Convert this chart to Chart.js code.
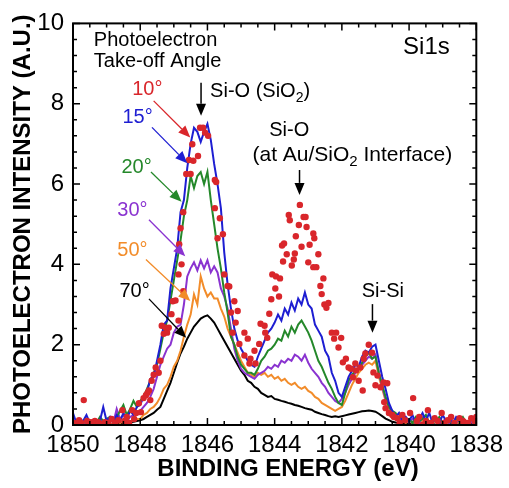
<!DOCTYPE html>
<html>
<head>
<meta charset="utf-8">
<script src="https://cdn.jsdelivr.net/npm/chart.js@4.4.1/dist/chart.umd.min.js"></script>
<style>
    html, body { margin: 0; padding: 0; background: #fff; }
    canvas { display: block; }
</style>
</head>
<body>
<canvas id="xps" width="509" height="488"></canvas>
<script>
/* global Chart */
// Binding energy grid (eV) shared by the line spectra
const energy = [
    1850.0, 1849.9, 1849.8, 1849.7, 1849.6, 1849.5, 1849.4, 1849.3, 1849.2, 1849.1,
    1849.0, 1848.9, 1848.8, 1848.7, 1848.6, 1848.5, 1848.4, 1848.3, 1848.2, 1848.1,
    1848.0, 1847.9, 1847.8, 1847.7, 1847.6, 1847.5, 1847.4, 1847.3, 1847.2, 1847.1,
    1847.0, 1846.9, 1846.8, 1846.7, 1846.6, 1846.5, 1846.4, 1846.3, 1846.2, 1846.1,
    1846.0, 1845.9, 1845.8, 1845.7, 1845.6, 1845.5, 1845.4, 1845.3, 1845.2, 1845.1,
    1845.0, 1844.9, 1844.8, 1844.7, 1844.6, 1844.5, 1844.4, 1844.3, 1844.2, 1844.1,
    1844.0, 1843.9, 1843.8, 1843.7, 1843.6, 1843.5, 1843.4, 1843.3, 1843.2, 1843.1,
    1843.0, 1842.9, 1842.8, 1842.7, 1842.6, 1842.5, 1842.4, 1842.3, 1842.2, 1842.1,
    1842.0, 1841.9, 1841.8, 1841.7, 1841.6, 1841.5, 1841.4, 1841.3, 1841.2, 1841.1,
    1841.0, 1840.9, 1840.8, 1840.7, 1840.6, 1840.5, 1840.4, 1840.3, 1840.2, 1840.1,
    1840.0, 1839.9, 1839.8, 1839.7, 1839.6, 1839.5, 1839.4, 1839.3, 1839.2, 1839.1,
    1839.0, 1838.9, 1838.8, 1838.7, 1838.6, 1838.5, 1838.4, 1838.3, 1838.2, 1838.1,
    1838.0
];

const angle15 = [
    0.3, 0.05, 0.15, 0.1, 0.25, 0.05, 0.1, 0.0, 0.1, 0.45,
    0.1, 0.2, 0.05, 0.25, 0.1, 0.3, 0.15, 0.35, 0.25, 0.45,
    0.5, 0.7, 0.8, 1.15, 1.2, 1.6, 2.0, 2.5, 2.6, 3.4,
    3.9, 4.4, 5.3, 5.6, 6.4, 7.0, 7.4, 7.3, 7.05, 7.3,
    7.5, 7.1, 6.5, 6.0, 5.4, 4.3, 3.5, 2.9, 2.4, 2.1,
    1.9, 1.75, 1.6, 1.5, 1.45, 1.7, 1.9, 2.1, 2.3, 2.4,
    2.55, 2.75, 2.6, 2.9, 2.75, 3.05, 2.85, 3.15, 3.0, 3.3,
    3.0, 2.9, 2.5, 2.35, 2.2, 1.85, 1.7, 1.3, 1.1, 0.8,
    0.7, 0.95, 1.2, 1.35, 1.5, 1.45, 1.7, 1.85, 1.8, 1.95,
    2.0, 1.6, 1.2, 0.9, 0.55, 0.35, 0.2, 0.3, 0.1, 0.2,
    0.1, 0.25, 0.05, 0.15, 0.3, 0.1, 0.3, 0.05, 0.2, 0.05,
    0.25, 0.1, 0.15, 0.05, 0.2, 0.1, 0.15, 0.05, 0.1, 0.2,
    0.1
];

const angle20 = [
    0.1, 0.0, 0.1, 0.05, 0.15, 0.0, 0.1, 0.05, 0.2, 0.1,
    0.15, 0.2, 0.1, 0.2, 0.35, 0.5, 0.25, 0.4, 0.6, 0.45,
    0.6, 0.7, 0.9, 1.1, 1.3, 1.5, 1.9, 2.3, 2.6, 3.1,
    3.6, 4.1, 4.6, 5.2, 5.6, 6.2, 5.9, 6.2, 6.3, 6.0,
    6.3, 5.6, 5.0, 4.4, 3.9, 3.3, 2.8, 2.2, 2.0, 1.7,
    1.5, 1.4, 1.3, 1.3, 1.25, 1.4, 1.6, 1.7, 1.85, 1.9,
    2.0, 2.15, 2.1, 2.35, 2.2, 2.45, 2.3, 2.5, 2.6, 2.45,
    2.3, 2.1, 1.85, 1.6, 1.45, 1.25, 1.05, 0.9, 0.7, 0.55,
    0.5, 0.8, 1.1, 1.25, 1.35, 1.4, 1.55, 1.7, 1.8, 1.65,
    1.7, 1.3, 1.0, 0.7, 0.45, 0.35, 0.3, 0.15, 0.25, 0.1,
    0.15, 0.05, 0.2, 0.1, 0.15, 0.25, 0.05, 0.15, 0.1, 0.2,
    0.05, 0.15, 0.1, 0.05, 0.15, 0.1, 0.2, 0.05, 0.1, 0.15,
    0.05
];

const angle30 = [
    0.05, 0.0, 0.1, 0.0, 0.05, 0.1, 0.0, 0.05, 0.15, 0.05,
    0.1, 0.2, 0.05, 0.4, 0.15, 0.25, 0.1, 0.2, 0.25, 0.3,
    0.35, 0.45, 0.55, 0.7, 0.9, 1.2, 1.5, 1.7, 1.9, 2.0,
    2.3, 2.45, 2.5, 3.0, 3.7, 3.9, 4.05, 3.85, 4.1, 3.9,
    4.1, 3.8, 3.95, 3.8, 3.4, 3.2, 2.9, 2.4, 1.9, 1.6,
    1.4, 1.3, 1.25, 1.2, 1.15, 1.25, 1.3, 1.35, 1.45, 1.4,
    1.5, 1.45, 1.6, 1.55, 1.65, 1.6, 1.75, 1.7, 1.6, 1.75,
    1.55, 1.4, 1.3, 1.2, 1.05, 0.95, 0.8, 0.7, 0.6, 0.55,
    0.65, 0.8, 1.0, 1.15, 1.3, 1.4, 1.5, 1.6, 1.7, 1.65,
    1.75, 1.3, 0.95, 0.65, 0.45, 0.3, 0.2, 0.15, 0.1, 0.2,
    0.05, 0.15, 0.1, 0.05, 0.2, 0.1, 0.05, 0.15, 0.1, 0.05,
    0.1, 0.15, 0.05, 0.1, 0.05, 0.15, 0.1, 0.05, 0.1, 0.05,
    0.1
];

const angle50 = [
    0.0, 0.05, 0.0, 0.05, 0.0, 0.05, 0.0, 0.05, 0.0, 0.05,
    0.1, 0.0, 0.05, 0.1, 0.05, 0.1, 0.05, 0.1, 0.1, 0.15,
    0.15, 0.25, 0.3, 0.4, 0.45, 0.55, 0.7, 0.9, 1.0, 1.2,
    1.45, 1.6, 1.85, 2.2, 2.5, 2.75, 3.25, 3.0, 3.7, 3.4,
    3.2, 3.3, 3.15, 3.15, 2.9, 2.7, 2.4, 2.2, 2.0, 1.8,
    1.6, 1.45, 1.3, 1.25, 1.2, 1.3, 1.25, 1.3, 1.2, 1.25,
    1.15, 1.2, 1.1, 1.15, 1.05, 1.0, 1.05, 0.95, 0.9, 0.95,
    0.85, 0.8, 0.7, 0.65, 0.55, 0.5, 0.45, 0.4, 0.35, 0.4,
    0.45, 0.6, 0.8, 1.0, 1.15, 1.3, 1.4, 1.5, 1.55, 1.5,
    1.6, 1.2, 0.9, 0.6, 0.4, 0.25, 0.2, 0.1, 0.15, 0.05,
    0.1, 0.05, 0.1, 0.05, 0.1, 0.05, 0.1, 0.05, 0.1, 0.05,
    0.1, 0.05, 0.1, 0.05, 0.1, 0.05, 0.1, 0.05, 0.1, 0.05,
    0.1
];

const angle70 = [
    0.0, 0.02, 0.0, 0.03, 0.0, 0.02, 0.0, 0.03, 0.0, 0.02,
    0.0, 0.03, 0.0, 0.02, 0.03, 0.05, 0.05, 0.07, 0.08, 0.1,
    0.12, 0.15, 0.2, 0.25, 0.3, 0.38, 0.45, 0.65, 0.85, 1.05,
    1.3, 1.55, 1.78, 1.95, 2.15, 2.3, 2.45, 2.55, 2.65, 2.7,
    2.73, 2.65, 2.55, 2.4, 2.25, 2.1, 1.95, 1.8, 1.65, 1.5,
    1.35, 1.25, 1.1, 1.05, 0.95, 0.9, 0.8, 0.75, 0.7, 0.72,
    0.65, 0.63, 0.6, 0.58, 0.55, 0.53, 0.5, 0.48, 0.45, 0.42,
    0.4, 0.38, 0.33, 0.3, 0.27, 0.25, 0.22, 0.2, 0.22, 0.2,
    0.22, 0.24, 0.26, 0.28, 0.3, 0.32, 0.34, 0.35, 0.36, 0.35,
    0.33, 0.28, 0.22, 0.16, 0.12, 0.08, 0.06, 0.05, 0.04, 0.03,
    0.02, 0.03, 0.0, 0.02, 0.03, 0.0, 0.02, 0.03, 0.0, 0.02,
    0.03, 0.0, 0.02, 0.03, 0.0, 0.02, 0.03, 0.0, 0.02, 0.03,
    0.0
];

// 10 deg take-off angle, plotted as dots
const angle10E = [
    1849.97, 1849.9, 1849.82, 1849.75, 1849.68, 1849.58, 1849.5, 1849.42, 1849.35, 1849.25,
    1849.15, 1849.05, 1848.95, 1848.85, 1848.75, 1848.65, 1848.53, 1848.47, 1848.4, 1848.33,
    1848.24, 1848.18, 1848.12, 1848.04, 1847.98, 1847.9, 1847.83, 1847.78, 1847.74, 1847.7,
    1847.66, 1847.6, 1847.54, 1847.45, 1847.4, 1847.36, 1847.3, 1847.24, 1847.2, 1847.15,
    1847.07, 1847.03, 1846.95, 1846.86, 1846.86, 1846.84, 1846.8, 1846.77, 1846.72, 1846.72,
    1846.63, 1846.55, 1846.5, 1846.45, 1846.42, 1846.28, 1846.22, 1846.13, 1846.07, 1845.98,
    1845.78, 1845.74, 1845.78, 1845.63, 1845.7, 1845.54, 1845.5, 1845.4, 1845.35, 1845.3,
    1845.2, 1845.1, 1845.16, 1845.25, 1845.05, 1844.9, 1844.8, 1844.9, 1844.75, 1844.72,
    1844.6, 1844.57, 1844.46, 1844.42, 1844.3, 1844.28, 1844.22, 1844.16, 1844.1, 1844.07,
    1843.98, 1843.96, 1843.87, 1843.84, 1843.78, 1843.75, 1843.72, 1843.64, 1843.58, 1843.55,
    1843.49, 1843.43, 1843.4, 1843.37, 1843.28, 1843.25, 1843.2, 1843.14, 1843.08, 1843.05,
    1843.0, 1842.96, 1842.85, 1842.85, 1842.82, 1842.76, 1842.7, 1842.64, 1842.6, 1842.55,
    1842.52, 1842.46, 1842.4, 1842.3, 1842.23, 1842.17, 1842.1, 1842.02, 1841.97, 1841.88,
    1841.8, 1841.73, 1841.67, 1841.6, 1841.58, 1841.5, 1841.45, 1841.38, 1841.35, 1841.3,
    1841.2, 1841.1, 1841.06, 1841.0, 1840.94, 1840.85, 1840.76, 1840.65, 1840.74, 1840.7,
    1840.6, 1840.5, 1840.45, 1840.35, 1840.28, 1840.2, 1840.12, 1839.97, 1839.88, 1839.77,
    1839.7, 1839.6, 1839.5, 1839.44, 1839.35, 1839.24, 1839.15, 1839.03, 1838.95, 1838.85,
    1838.75, 1838.65, 1838.5, 1838.4, 1838.36, 1838.25, 1838.15, 1838.05, 1838.0
];
const angle10 = [
    0.05, 0.0, 0.12, 0.05, 0.62, 0.1, 0.07, 0.07, 0.1, 0.07,
    0.02, 0.07, 0.05, 0.15, 0.05, 0.12, 0.37, 0.1, 0.2, 0.05,
    0.37, 0.15, 0.3, 0.54, 0.32, 0.67, 0.74, 0.8, 0.86, 0.62,
    1.1, 1.25, 1.43, 1.3, 1.6, 2.47, 2.27, 2.42, 2.3, 2.42,
    2.76, 3.08, 3.1, 3.75, 2.6, 4.5, 4.9, 4.0, 3.33, 5.3,
    6.25, 6.6, 6.25, 6.99, 6.58, 6.7, 7.4, 7.4, 7.28, 7.2,
    6.1, 6.05, 5.4, 5.15, 4.65, 4.75, 3.75, 3.46, 3.45, 2.8,
    3.08, 2.84, 2.55, 2.3, 2.02, 2.3, 2.15, 1.73, 1.53, 1.65,
    1.85, 1.53, 2.02, 2.52, 2.47, 2.3, 2.17, 2.77, 3.13, 3.75,
    3.4, 3.7, 3.2, 3.65, 4.47, 4.07, 4.52, 4.25, 5.23, 5.1,
    3.97, 4.12, 4.27, 4.7, 4.98, 5.48, 4.44, 5.18, 5.18, 4.93,
    4.05, 4.49, 4.77, 3.93, 4.65, 3.93, 4.25, 3.46, 3.26, 3.65,
    3.0, 2.92, 3.04, 2.3, 2.15, 2.3, 1.93, 2.17, 1.56, 1.65,
    1.43, 1.4, 1.19, 1.53, 1.36, 1.1, 1.43, 0.86, 1.65, 1.78,
    2.0, 1.8, 1.31, 0.99, 1.23, 0.94, 1.06, 1.04, 0.57, 0.42,
    0.3, 0.25, 0.2, 0.17, 0.05, 0.25, 0.12, 0.3, 0.67, 0.1,
    0.2, 0.0, 0.1, 0.37, 0.05, 0.17, 0.1, 0.3, 0.05, 0.12,
    0.2, 0.05, 0.17, 0.1, 0.07, 0.05, 0.17, 0.1, 0.2
];

const xTicks = [1850, 1848, 1846, 1844, 1842, 1840, 1838];
const yTicks = [0, 2, 4, 6, 8, 10];

const FONT = '"Liberation Sans", Arial, Helvetica, sans-serif';
const RED = '#d9262b';
const BLUE = '#1e1ed2';
const GREEN = '#24882a';
const PURPLE = '#8a33d0';
const ORANGE = '#f28c2a';
const BLACK = '#000000';

function pairs(xs, ys) {
    return xs.map((x, i) => ({ x, y: ys[i] }));
}

function spectrum(label, values, color) {
    return {
        label,
        data: pairs(energy, values),
        borderColor: color,
        backgroundColor: color,
        borderWidth: 2,
        pointRadius: 0,
        tension: 0,
        showLine: true,
    };
}

// draw text made of runs; a run given as [text] is set as subscript
function richText(ctx, runs, x, y, size, color) {
    ctx.fillStyle = color;
    ctx.textAlign = 'left';
    ctx.textBaseline = 'middle';
    let cx = x;
    runs.forEach(r => {
        const sub = Array.isArray(r);
        const t = sub ? r[0] : r;
        ctx.font = `${sub ? Math.round(size * 0.7) : size}px ${FONT}`;
        ctx.fillText(t, cx, y + (sub ? size * 0.32 : 0));
        cx += ctx.measureText(t).width;
    });
}

function arrow(ctx, x1, y1, x2, y2, color, head, half, lw) {
    const ang = Math.atan2(y2 - y1, x2 - x1);
    const bx = x2 - head * Math.cos(ang);
    const by = y2 - head * Math.sin(ang);
    ctx.strokeStyle = color;
    ctx.fillStyle = color;
    ctx.lineWidth = lw;
    ctx.beginPath();
    ctx.moveTo(x1, y1);
    ctx.lineTo(bx, by);
    ctx.stroke();
    ctx.beginPath();
    ctx.moveTo(x2, y2);
    ctx.lineTo(bx + half * Math.sin(ang), by - half * Math.cos(ang));
    ctx.lineTo(bx - half * Math.sin(ang), by + half * Math.cos(ang));
    ctx.closePath();
    ctx.fill();
}

const frameAndNotes = {
    id: 'frameAndNotes',
    afterDraw(chart) {
        const { ctx, chartArea: a } = chart;
        const sx = chart.scales.x;
        const sy = chart.scales.y;
        const px = e => sx.getPixelForValue(e);
        const py = v => sy.getPixelForValue(v);
        ctx.save();

        // inward ticks on all four sides
        ctx.strokeStyle = '#000';
        ctx.lineWidth = 1.5;
        ctx.beginPath();
        for (let k = 0; k <= 24; k++) {
            const x = px(1838 + k * 0.5);
            const len = k % 4 === 0 ? 7 : 4;
            ctx.moveTo(x, a.bottom); ctx.lineTo(x, a.bottom - len);
            ctx.moveTo(x, a.top); ctx.lineTo(x, a.top + len);
        }
        for (let k = 0; k <= 25; k++) {
            const y = py(k * 0.4);
            const len = k % 5 === 0 ? 7 : 4;
            ctx.moveTo(a.left, y); ctx.lineTo(a.left + len, y);
            ctx.moveTo(a.right, y); ctx.lineTo(a.right - len, y);
        }
        ctx.stroke();
        ctx.lineWidth = 2;
        ctx.strokeRect(a.left, a.top, a.right - a.left, a.bottom - a.top);

        // axis titles
        ctx.fillStyle = '#000';
        ctx.font = `bold 24px ${FONT}`;
        ctx.textAlign = 'center';
        ctx.textBaseline = 'middle';
        ctx.fillText('BINDING ENERGY (eV)', 288, 469);
        ctx.save();
        ctx.translate(23, (a.top + a.bottom) / 2);
        ctx.rotate(-Math.PI / 2);
        ctx.fillText('PHOTOELECTRON INTENSITY (A.U.)', 0, 0);
        ctx.restore();

        // header texts
        richText(ctx, ['Photoelectron'], px(1849.38), py(9.58), 20, '#000');
        richText(ctx, ['Take-off Angle'], px(1849.38), py(9.06), 20, '#000');
        richText(ctx, ['Si1s'], px(1840.18), py(9.41), 24, '#000');

        // take-off angle labels and their arrows
        const tags = [
            ['10°', RED, 1848.24, 8.35, 1847.60, 8.07, 1846.51, 7.16],
            ['15°', BLUE, 1848.53, 7.65, 1847.65, 7.41, 1846.60, 6.52],
            ['20°', GREEN, 1848.56, 6.42, 1847.68, 6.30, 1846.77, 5.56],
            ['30°', PURPLE, 1848.68, 5.33, 1847.74, 5.11, 1846.66, 4.20],
            ['50°', ORANGE, 1848.68, 4.35, 1847.83, 4.12, 1846.51, 3.09],
            ['70°', BLACK, 1848.62, 3.33, 1847.74, 3.14, 1846.63, 2.17],
        ];
        tags.forEach(t => {
            richText(ctx, [t[0]], px(t[2]), py(t[3]), 20, t[1]);
            arrow(ctx, px(t[4]), py(t[5]), px(t[6]), py(t[7]), t[1], 12, 5, 1.3);
        });

        // peak assignments
        richText(ctx, ['Si-O (SiO', ['2'], ')'], px(1845.92), py(8.30), 20, '#000');
        arrow(ctx, px(1846.19), py(8.52), px(1846.19), py(7.70), '#000', 12, 5, 1.5);
        richText(ctx, ['Si-O'], px(1844.16), py(7.33), 20, '#000');
        richText(ctx, ['(at Au/SiO', ['2'], ' Interface)'], px(1844.66), py(6.72), 21, '#000');
        arrow(ctx, px(1843.26), py(6.35), px(1843.26), py(5.73), '#000', 12, 5, 1.5);
        richText(ctx, ['Si-Si'], px(1841.41), py(3.33), 20, '#000');
        arrow(ctx, px(1841.09), py(3.01), px(1841.09), py(2.30), '#000', 12, 5, 1.5);

        ctx.restore();
    },
};

new Chart(document.getElementById('xps').getContext('2d'), {
    type: 'scatter',
    data: {
        datasets: [
            {
                label: '10°',
                data: pairs(angle10E, angle10),
                backgroundColor: RED,
                borderColor: RED,
                borderWidth: 0,
                pointRadius: 3.2,
                showLine: false,
            },
            spectrum('15°', angle15, BLUE),
            spectrum('20°', angle20, GREEN),
            spectrum('30°', angle30, PURPLE),
            spectrum('50°', angle50, ORANGE),
            spectrum('70°', angle70, BLACK),
        ],
    },
    options: {
        responsive: false,
        animation: false,
        devicePixelRatio: 1,
        layout: { padding: { top: 18, right: 27, left: 0, bottom: 0 } },
        plugins: { legend: { display: false }, tooltip: { enabled: false } },
        scales: {
            x: {
                type: 'linear',
                reverse: true,
                min: 1838,
                max: 1850,
                afterBuildTicks: s => { s.ticks = xTicks.map(v => ({ value: v })); },
                ticks: { font: { family: FONT, size: 24 }, color: '#000', padding: 6, maxRotation: 0, callback: v => String(v) },
                grid: { display: false, drawTicks: false },
                border: { display: false },
                afterFit: s => { s.height = 63; },
            },
            y: {
                min: 0,
                max: 10,
                afterBuildTicks: s => { s.ticks = yTicks.map(v => ({ value: v })); },
                ticks: { font: { family: FONT, size: 24 }, color: '#000', padding: 9, callback: v => String(v) },
                grid: { display: false, drawTicks: false },
                border: { display: false },
                afterFit: s => { s.width = 73; },
            },
        },
    },
    plugins: [frameAndNotes],
});
</script>
</body>
</html>
